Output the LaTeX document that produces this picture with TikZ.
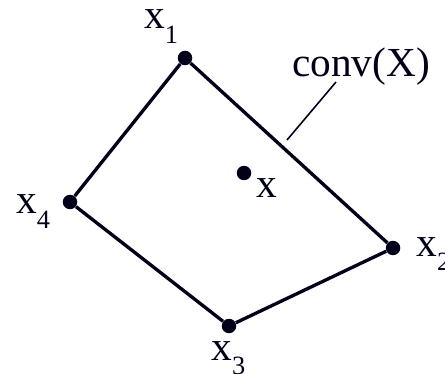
\documentclass[tikz,border=0pt]{standalone}
\usepackage{fontspec}
\setmainfont{Liberation Serif}
\usetikzlibrary{positioning}
\newcommand{\lbl}[1]{x\raisebox{-0.36em}{\fontsize{15}{17}\selectfont #1}}

\begin{document}
\begin{tikzpicture}[x=0.02cm, y=-0.02cm,
  vertex/.style={circle, fill=black!90!blue, inner sep=0pt, minimum size=0.29cm},
  edge/.style={line width=1.9pt, draw=black!90!blue},
  leader/.style={line width=0.9pt, draw=black!90!blue},
  tag/.style={anchor=base west, inner sep=0pt, text=black!90!blue,
              font=\fontsize{23.5}{27}\selectfont}
]
\useasboundingbox (0,0) rectangle (445,374);

% vertices of the hull and the inner point
\node[vertex] (p1) at (185,58)  {};
\node[vertex] (p2) at (393,248) {};
\node[vertex] (p3) at (229,326) {};
\node[vertex] (p4) at (70,202)  {};
\node[vertex] (px) at (244,173) {};

% hull edges
\draw[edge] (p1) -- (p2);
\draw[edge] (p2) -- (p3);
\draw[edge] (p3) -- (p4);
\draw[edge] (p4) -- (p1);

% labels
\node[tag] (l1) at (144,29)  {\lbl{1}};
\node[tag] (l2) at (416,256) {\lbl{2}};
\node[tag] (l3) at (211,360) {\lbl{3}};
\node[tag] (l4) at (16,214)  {\lbl{4}};
\node[tag] (lx) at (256,198) {x};
\node[tag] (conv) at (292,77) {conv(X)};

% leader to the hull
\coordinate (lt) at (336,82);
\coordinate (lb) at (287,140);
\draw[leader] (lt) -- (lb);

\end{tikzpicture}
\end{document}
